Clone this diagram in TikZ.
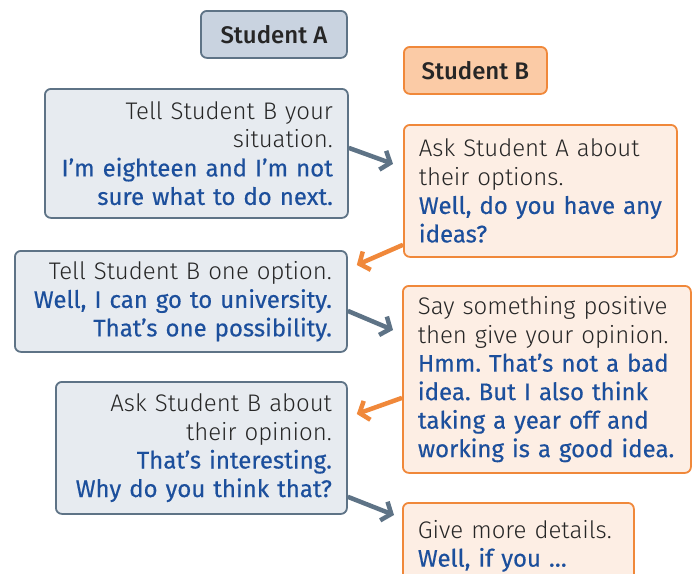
\documentclass[tikz,border=0pt]{standalone}
\usepackage{fontspec}
\usetikzlibrary{arrows.meta}
\setmainfont{Fira Sans}
\IfFontExistsTF{Fira Sans Light}{\newfontfamily\blkfont{Fira Sans Light}}{\newfontfamily\blkfont{Fira Sans}}
\newfontfamily\blufont{Fira Sans}[FakeBold=0.4]
\IfFontExistsTF{Fira Sans Medium}{\newfontfamily\hdrfont{Fira Sans Medium}}{\newfontfamily\hdrfont{Fira Sans Bold}}
\definecolor{grayfill}{HTML}{E7EBF0}
\definecolor{grayline}{HTML}{5E7386}
\definecolor{grayhdr}{HTML}{C9D3E0}
\definecolor{orfill}{HTML}{FDEEE4}
\definecolor{orline}{HTML}{F0883A}
\definecolor{orhdr}{HTML}{FBCBA6}
\definecolor{txtblue}{HTML}{1C4F9C}
\definecolor{txtblack}{HTML}{262626}
\newcommand{\bk}[1]{{\blkfont\color{txtblack}#1}}
\newcommand{\bl}[1]{{\blufont\color{txtblue}#1}}
\frenchspacing
\begin{document}
\begin{tikzpicture}[x=1pt,y=-1pt,
  every node/.style={font=\fontsize{24}{28.5}\selectfont},
  boxbase/.style={rounded corners=6pt, line width=1.8pt, anchor=north west, inner xsep=15pt, inner ysep=4pt},
  boxa/.style={boxbase, draw=grayline, fill=grayfill, align=right},
  boxb/.style={boxbase, draw=orline, fill=orfill, align=left},
  hdra/.style={rounded corners=6pt, line width=1.8pt, draw=grayline, fill=grayhdr, anchor=north west, inner sep=0pt, font=\fontsize{24}{28}\selectfont\hdrfont\color{txtblack}},
  hdrb/.style={rounded corners=6pt, line width=1.8pt, draw=orline, fill=orhdr, anchor=north west, inner sep=0pt, font=\fontsize{24}{28}\selectfont\hdrfont\color{txtblack}},
  arra/.style={draw=grayline, line width=4.5pt, -{Straight Barb[length=8pt,width=20pt]}},
  arrb/.style={draw=orline, line width=4.5pt, -{Straight Barb[length=8pt,width=20pt]}}
]
\useasboundingbox (0,0) rectangle (696,573);
\node[hdra, minimum width=146pt, minimum height=47pt] (ha) at (200,10) {Student A};
\node[hdrb, minimum width=143pt, minimum height=47pt] (hb) at (403,46) {Student B};

\node[boxa, text width=273pt, minimum height=129pt] (a1) at (44,88)
  {\bk{Tell Student B your\\situation.}\\\bl{I’m eighteen and I’m not\\sure what to do next.}};
\node[boxb, text width=243pt, minimum height=132pt] (b1) at (403,124)
  {\bk{Ask Student A about\\their options.}\\\bl{Well, do you have any\\ideas?}};
\node[boxa, text width=302pt, minimum height=101pt] (a2) at (14,250)
  {\bk{Tell Student B one option.}\\\bl{Well, I can go to university.\\That’s one possibility.}};
\node[boxb, text width=258pt, minimum height=187pt] (b2) at (402,285)
  {\bk{Say something positive\\then give your opinion.}\\\bl{Hmm. That’s not a bad\\idea. But I also think\\taking a year off and\\working is a good idea.}};
\node[boxa, text width=261pt, minimum height=132pt] (a3) at (55,381)
  {\bk{Ask Student B about\\their opinion.}\\\bl{That’s interesting.\\Why do you think that?}};
\node[boxb, text width=201pt, minimum height=86pt] (b3) at (402,502)
  {\bk{Give more details.}\\\bl{Well, if you …}\\[8pt]};

\draw[arra] ([yshift=5.5pt]a1.east) -- ([xshift=-10pt,yshift=27pt]b1.west);
\draw[arrb] ([yshift=13pt]b1.south west) -- ([xshift=9pt,yshift=-15pt]a2.north east);
\draw[arra] ([yshift=-9.5pt]a2.east) -- ([xshift=-9pt,yshift=-45pt]b2.north west);
\draw[arrb] ([yshift=-18.5pt]b2.west) -- ([xshift=9pt,yshift=-33pt]a3.north east);
\draw[arra] ([yshift=18pt]a3.south east) -- ([xshift=-8pt,yshift=-13pt]b3.north west);
\end{tikzpicture}
\end{document}
